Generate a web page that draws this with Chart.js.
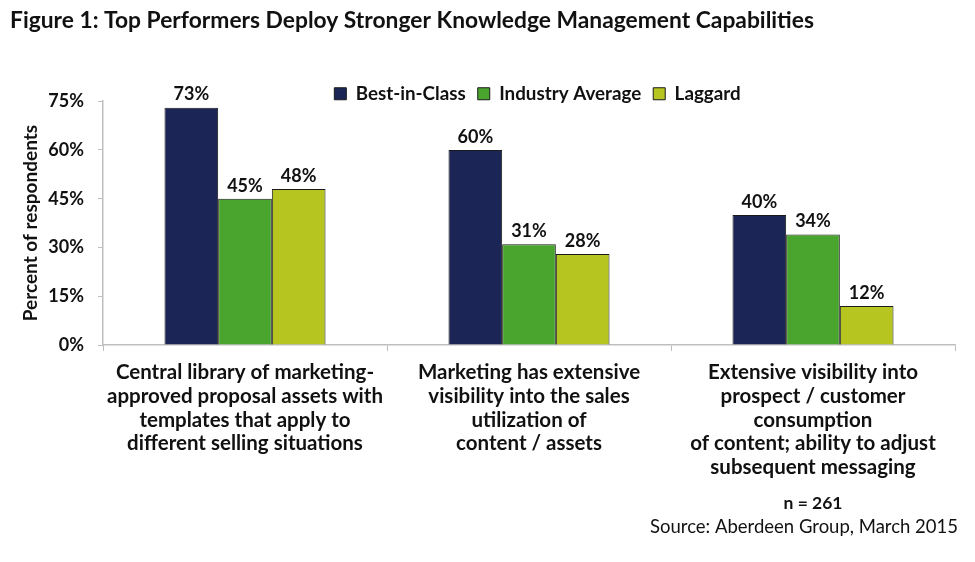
<!DOCTYPE html>
<html>
<head>
<meta charset="utf-8">
<script src="https://cdn.jsdelivr.net/npm/chart.js@4.4.1/dist/chart.umd.min.js"></script>
<style>
html,body{margin:0;padding:0;background:#fff;}
#wrap{width:975px;height:562px;position:relative;}
</style>
</head>
<body>
<div id="wrap"><canvas id="c" width="975" height="562"></canvas></div>
<script>
const categories = [
  ["Central library of marketing-","approved proposal assets with","templates that apply to","different selling situations"],
  ["Marketing has extensive","visibility into the sales","utilization of","content / assets"],
  ["Extensive visibility into","prospect / customer","consumption","of content; ability to adjust","subsequent messaging"]
];
const seriesNames = ["Best-in-Class","Industry Average","Laggard"];
const bestInClass = [73, 60, 40];
const industryAverage = [45, 31, 34];
const laggard = [48, 28, 12];
const yTicks = [0, 15, 30, 45, 60, 75];
const titleText = "Figure 1: Top Performers Deploy Stronger Knowledge Management Capabilities";
const yTitle = "Percent of respondents";
const noteN = "n = 261";
const noteSource = "Source: Aberdeen Group, March 2015";

const colors = ["#1b2656", "#4aa52e", "#b7c520"];
const FONT = "Lato, 'Open Sans', sans-serif";

const extrasPlugin = {
  id: 'extras',
  afterLayout(chart) {
    const lg = chart.legend;
    if (lg) { lg.left += 55; lg.right += 55; lg.top += 12; lg.bottom += 12; }
  },
  afterDatasetsDraw(chart) {
    const ctx = chart.ctx;
    ctx.save();
    ctx.font = "bold 18px " + FONT;
    ctx.fillStyle = "#111";
    ctx.textAlign = "center";
    ctx.textBaseline = "bottom";
    chart.data.datasets.forEach((ds, i) => {
      const meta = chart.getDatasetMeta(i);
      meta.data.forEach((bar, j) => {
        ctx.fillText(ds.data[j] + "%", bar.x, bar.y - 4);
      });
    });
    const x = chart.scales.x;
    ctx.font = "bold 17.5px " + FONT;
    ctx.textBaseline = "middle";
    ctx.fillText(noteN, x.getPixelForValue(2), 503);
    ctx.font = "18.5px " + FONT;
    ctx.textAlign = "right";
    ctx.fillText(noteSource, 958, 527);
    ctx.restore();
  }
};

new Chart(document.getElementById('c'), {
  type: 'bar',
  data: {
    labels: categories,
    datasets: [
      {label: seriesNames[0], data: bestInClass, backgroundColor: colors[0]},
      {label: seriesNames[1], data: industryAverage, backgroundColor: colors[1]},
      {label: seriesNames[2], data: laggard, backgroundColor: colors[2]}
    ].map(d => Object.assign(d, {borderColor: "#1a1a1a", borderWidth: 1, categoryPercentage: 0.567, barPercentage: 1.0}))
  },
  options: {
    responsive: false,
    animation: false,
    layout: {padding: {left: 10, right: 20, top: 0, bottom: 0}},
    plugins: {
      tooltip: {enabled: false},
      title: {
        display: true, text: titleText, align: 'start',
        color: "#111", font: {family: FONT, size: 22.8, weight: 'bold'},
        padding: {top: 7, bottom: 26}
      },
      legend: {
        display: true, position: 'top', align: 'center',
        labels: {
          color: "#111", font: {family: FONT, size: 18.8, weight: 'bold'},
          boxWidth: 12, boxHeight: 12, padding: 12
        }
      }
    },
    scales: {
      x: {
        offset: true,
        grid: {display: true, drawOnChartArea: false, drawTicks: true, tickLength: 6, color: "#bfbfbf", offset: true},
        border: {display: true, color: "#bfbfbf", width: 1.5},
        ticks: {color: "#111", font: {family: FONT, size: 20.5, weight: 'bold', lineHeight: 1.15}, maxRotation: 0, autoSkip: false, padding: 10},
        afterFit(scale) { scale.height = 217; }
      },
      y: {
        min: 0, max: 75,
        afterBuildTicks(scale) { scale.ticks = yTicks.map(v => ({value: v})); },
        grid: {display: true, drawOnChartArea: false, drawTicks: true, tickLength: 5, color: "#bfbfbf"},
        border: {display: true, color: "#bfbfbf", width: 1.5},
        ticks: {color: "#111", font: {family: FONT, size: 18, weight: 'bold'}, padding: 14, callback: v => v + "%"},
        title: {display: true, text: yTitle, color: "#111", font: {family: FONT, size: 19, weight: 'bold'}, padding: {top: 9, bottom: 0}},
        afterFit(scale) { scale.width = 93; }
      }
    }
  },
  plugins: [extrasPlugin]
});
</script>
</body>
</html>
